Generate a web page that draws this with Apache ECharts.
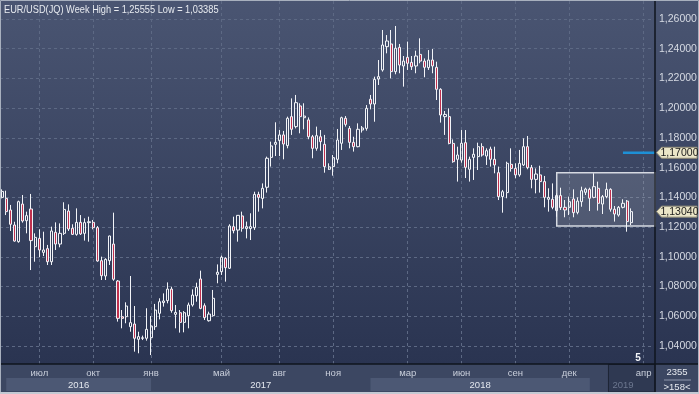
<!DOCTYPE html>
<html><head><meta charset="utf-8">
<script src="https://cdn.jsdelivr.net/npm/echarts@6/dist/echarts.min.js"></script>
<style>html,body{margin:0;padding:0;background:#2b3552;}#c{width:699px;height:394px;}</style>
</head><body><div id="c"></div>
<script>
// ---- data (weekly EUR/USD) ----
const open = [1.1400,1.1393,1.1315,1.1214,1.1102,1.1355,1.1243,1.1322,1.1068,1.1124,1.1030,1.1055,1.0967,1.1165,1.1086,1.1158,1.1308,1.1192,1.1151,1.1232,1.1158,1.1230,1.1232,1.1196,1.0974,1.0871,1.0974,1.1086,1.0837,1.0597,1.0597,1.0530,1.0548,1.0445,1.0452,1.0452,1.0456,1.0530,1.0620,1.0692,1.0705,1.0783,1.0613,1.0624,1.0559,1.0604,1.0676,1.0738,1.0851,1.0671,1.0570,1.0604,1.0882,1.0900,1.0990,1.0923,1.1203,1.1180,1.1275,1.1190,1.1190,1.1196,1.1420,1.1393,1.1468,1.1669,1.1757,1.1782,1.1820,1.1748,1.1943,1.1876,1.2015,1.1936,1.1921,1.1808,1.1730,1.1808,1.1757,1.1589,1.1607,1.1656,1.1764,1.1932,1.1864,1.1770,1.1741,1.1853,1.1864,1.2060,1.2028,1.2196,1.2257,1.2414,1.2432,1.2246,1.2409,1.2284,1.2342,1.2308,1.2284,1.2362,1.2317,1.2273,1.2324,1.2275,1.2127,1.1943,1.1943,1.1763,1.1656,1.1651,1.1768,1.1589,1.1669,1.1674,1.1741,1.1678,1.1725,1.1656,1.1566,1.1405,1.1432,1.1622,1.1595,1.1551,1.1618,1.1741,1.1600,1.1521,1.1551,1.1506,1.1387,1.1387,1.1311,1.1412,1.1333,1.1333,1.1389,1.1299,1.1371,1.1434,1.1454,1.1400,1.1461,1.1355,1.1405,1.1454,1.1320,1.1281,1.1333,1.1375,1.1230];
const high = [1.1454,1.1445,1.1349,1.1236,1.1378,1.1416,1.1304,1.1423,1.1158,1.1185,1.1169,1.1080,1.1203,1.1232,1.1225,1.1367,1.1353,1.1219,1.1326,1.1281,1.1259,1.1270,1.1248,1.1207,1.1001,1.0990,1.1142,1.1297,1.0844,1.0642,1.0694,1.0871,1.0669,1.0496,1.0470,1.0654,1.0602,1.0683,1.0721,1.0754,1.0828,1.0799,1.0676,1.0642,1.0635,1.0692,1.0781,1.0826,1.0907,1.0687,1.0631,1.0777,1.0949,1.1008,1.0997,1.1219,1.1270,1.1281,1.1304,1.1237,1.1293,1.1438,1.1438,1.1494,1.1674,1.1775,1.1905,1.1853,1.1847,1.1943,1.2066,1.2089,1.2033,1.2033,1.1938,1.1820,1.1876,1.1853,1.1820,1.1629,1.1685,1.1860,1.1943,1.1947,1.1880,1.1808,1.1898,1.1880,1.2021,1.2089,1.2212,1.2324,1.2526,1.2492,1.2526,1.2553,1.2432,1.2351,1.2448,1.2351,1.2387,1.2470,1.2335,1.2391,1.2398,1.2313,1.2134,1.1981,1.1999,1.1790,1.1741,1.1853,1.1853,1.1674,1.1730,1.1768,1.1764,1.1730,1.1741,1.1741,1.1607,1.1450,1.1640,1.1730,1.1629,1.1719,1.1797,1.1813,1.1618,1.1595,1.1613,1.1544,1.1461,1.1494,1.1427,1.1465,1.1382,1.1405,1.1454,1.1400,1.1472,1.1465,1.1465,1.1562,1.1506,1.1416,1.1499,1.1461,1.1342,1.1342,1.1387,1.1382,1.1326];
const low = [1.1393,1.1281,1.1174,1.1102,1.1095,1.1230,1.1158,1.0911,1.0967,1.0997,1.1005,1.0945,1.0945,1.1046,1.1064,1.1147,1.1174,1.1147,1.1142,1.1147,1.1109,1.1102,1.1185,1.0967,1.0844,1.0844,1.0945,1.0839,1.0564,1.0519,1.0553,1.0496,1.0362,1.0351,1.0440,1.0436,1.0339,1.0508,1.0579,1.0665,1.0687,1.0624,1.0519,1.0490,1.0492,1.0519,1.0665,1.0698,1.0647,1.0575,1.0564,1.0597,1.0822,1.0878,1.0833,1.0918,1.1158,1.1102,1.1169,1.1124,1.1113,1.1181,1.1304,1.1326,1.1432,1.1607,1.1678,1.1678,1.1656,1.1730,1.1820,1.1864,1.1831,1.1858,1.1791,1.1663,1.1714,1.1714,1.1566,1.1584,1.1546,1.1629,1.1719,1.1876,1.1730,1.1708,1.1737,1.1836,1.1849,1.1992,1.1909,1.2156,1.2246,1.2369,1.2201,1.2228,1.2235,1.2145,1.2257,1.2257,1.2235,1.2302,1.2208,1.2257,1.2235,1.2055,1.1903,1.1820,1.1757,1.1633,1.1506,1.1633,1.1530,1.1506,1.1517,1.1584,1.1674,1.1618,1.1607,1.1562,1.1382,1.1297,1.1394,1.1573,1.1528,1.1539,1.1611,1.1589,1.1461,1.1427,1.1432,1.1333,1.1304,1.1320,1.1270,1.1315,1.1266,1.1281,1.1266,1.1286,1.1337,1.1416,1.1308,1.1394,1.1311,1.1288,1.1394,1.1304,1.1237,1.1270,1.1326,1.1169,1.1214];
const close = [1.1440,1.1304,1.1219,1.1106,1.1371,1.1241,1.1277,1.1109,1.1131,1.1046,1.1046,1.0967,1.1174,1.1086,1.1158,1.1319,1.1187,1.1151,1.1232,1.1154,1.1230,1.1236,1.1196,1.0972,1.0873,1.0983,1.1140,1.0849,1.0586,1.0586,1.0669,1.0557,1.0452,1.0463,1.0455,1.0512,1.0534,1.0642,1.0698,1.0703,1.0783,1.0638,1.0626,1.0559,1.0624,1.0676,1.0743,1.0795,1.0653,1.0591,1.0615,1.0721,1.0896,1.0997,1.0927,1.1207,1.1176,1.1279,1.1192,1.1203,1.1203,1.1420,1.1400,1.1461,1.1663,1.1746,1.1770,1.1820,1.1759,1.1932,1.1858,1.2037,1.1943,1.1947,1.1808,1.1730,1.1815,1.1775,1.1607,1.1605,1.1667,1.1786,1.1936,1.1891,1.1770,1.1741,1.1858,1.1867,1.1999,1.2028,1.2194,1.2212,1.2425,1.2452,1.2246,1.2403,1.2290,1.2317,1.2302,1.2279,1.2351,1.2317,1.2275,1.2324,1.2284,1.2127,1.1954,1.1958,1.1763,1.1640,1.1685,1.1764,1.1602,1.1656,1.1690,1.1741,1.1685,1.1714,1.1656,1.1618,1.1405,1.1438,1.1629,1.1595,1.1551,1.1629,1.1741,1.1600,1.1521,1.1557,1.1506,1.1400,1.1400,1.1333,1.1412,1.1331,1.1315,1.1371,1.1297,1.1375,1.1445,1.1456,1.1394,1.1472,1.1360,1.1405,1.1454,1.1320,1.1288,1.1333,1.1360,1.1237,1.1304];

const slotCount = 158;                       // bars visible in the window (">158<")
const weeks = Array.from({length: slotCount}, (_, i) => 'W' + (i + 1));
const monthTickIdx = [9, 22, 36, 53, 67, 80, 98, 111, 124, 137, 155];
const monthTickLabels = ['июл','окт','янв','май','авг','ноя','мар','июн','сен','дек','апр'];
const yearLabels = ['2016', '2017', '2018', '2019'];
const yearStartIdx = [1, 36, 89, 142];
const futureStartIdx = 147;
const priceMin = 1.02, priceMax = 1.28, priceStep = 0.02;
const rangeStartIdx = 134, rangeHigh = 1.1565, rangeLow = 1.1207;
const targetLevel = 1.17, targetStartIdx = 150;
const titleText = 'EUR/USD(JQ) Week High = 1,25555 Low = 1,03385';
const barsTotalText = '2355', barsVisibleText = '>158<', counterText = '5';

const fmt = v => v.toFixed(5).replace('.', ',');
const candles = open.map((o, i) => [o, close[i], low[i], high[i]]);
const FONT = '"Liberation Sans", Arial, sans-serif';

const chart = echarts.init(document.getElementById('c'), null, {renderer: 'canvas'});
chart.setOption({
  animation: false,
  backgroundColor: new echarts.graphic.LinearGradient(0, 0, 0, 1, [
    {offset: 0, color: '#4a5572'}, {offset: 0.924, color: '#2a3451'}, {offset: 1, color: '#2a3451'}]),
  grid: {left: 0, right: 45, top: -10.727, bottom: 18.273, containLabel: false, outerBoundsMode: 'none'},
  xAxis: {
    type: 'category', data: weeks, boundaryGap: true, offset: -11.727,
    axisLine: {show: false},
    axisTick: {show: true, inside: true, length: 364, alignWithLabel: true,
      interval: (i) => monthTickIdx.includes(i),
      lineStyle: {color: '#5d6984', width: 1, type: [3, 3]}},
    axisLabel: {show: true, interval: (i) => monthTickIdx.includes(i),
      formatter: (v, i) => monthTickLabels[monthTickIdx.indexOf(i)] || '',
      color: (v, i) => (i >= futureStartIdx ? '#6c778f' : '#c9cfdb'),
      fontSize: 9.5, fontFamily: FONT, margin: 4},
    splitLine: {show: false}
  },
  yAxis: {
    type: 'value', position: 'right', min: priceMin, max: priceMax, interval: priceStep, scale: true,
    axisLine: {show: false}, axisTick: {show: false},
    axisLabel: {formatter: fmt, color: '#d6dae3', fontSize: 10.5, fontFamily: FONT, margin: 5,
      showMinLabel: false, showMaxLabel: false},
    splitLine: {show: true, showMinLine: false, showMaxLine: false,
      lineStyle: {color: '#5d6984', width: 1, type: [3, 3]}}
  },
  series: [{
    type: 'candlestick', data: candles, barWidth: 2.6, z: 3,
    itemStyle: {color: 'rgba(0,0,0,0)', color0: '#c0304e', borderColor: '#f2f4f8', borderColor0: '#f2f4f8', borderWidth: 1}
  }]
});

function drawOverlay() {
  const px = (i) => chart.convertToPixel({xAxisIndex: 0}, weeks[i]);
  const py = (v) => chart.convertToPixel({yAxisIndex: 0}, v);
  const band = px(1) - px(0);
  const g = [];
  // bottom axis strip
  g.push({type: 'rect', shape: {x: 0, y: 364, width: 699, height: 30}, style: {fill: '#3c4762'}, z: -10});
  [[0, 1], [2, 3]].forEach(([a, b]) => {
    g.push({type: 'rect', shape: {x: px(yearStartIdx[a]), y: 378, width: px(yearStartIdx[b]) - px(yearStartIdx[a]), height: 13},
      style: {fill: '#4c5874'}, z: -9});
  });
  const fx = px(futureStartIdx) - band / 2;
  g.push({type: 'rect', shape: {x: fx, y: 364.5, width: 655 - fx, height: 27.5}, style: {fill: '#2f3952', stroke: '#1d2535', lineWidth: 1}, z: -9});
  for (let k = 0; k < 3; k++) {
    const cx = (px(yearStartIdx[k]) + px(yearStartIdx[k + 1])) / 2;
    g.push({type: 'text', x: cx, y: 385, style: {text: yearLabels[k], fill: '#e3e7ee', font: '9.5px ' + FONT, align: 'center', verticalAlign: 'middle'}, z: 10});
  }
  g.push({type: 'text', x: fx + 4, y: 385, style: {text: yearLabels[3], fill: '#6c778f', font: '9.5px ' + FONT, align: 'left', verticalAlign: 'middle'}, z: 10});
  // range box
  const y1 = py(rangeHigh), y2 = py(rangeLow), x1 = px(rangeStartIdx);
  g.push({type: 'rect', shape: {x: x1, y: y1, width: 655 - x1, height: y2 - y1},
    style: {fill: 'rgba(255,255,255,0.13)', stroke: '#d5d9e1', lineWidth: 1.5}, z: 1});
  // target line
  const ty = py(targetLevel);
  g.push({type: 'line', shape: {x1: px(targetStartIdx), y1: ty, x2: 655, y2: ty}, style: {stroke: '#1e90d6', lineWidth: 2.5}, z: 5});
  // axis borders
  g.push({type: 'line', shape: {x1: 655, y1: 0, x2: 655, y2: 394}, style: {stroke: '#0f141e', lineWidth: 1.5}, z: 12});
  g.push({type: 'line', shape: {x1: 0, y1: 364, x2: 699, y2: 364}, style: {stroke: '#0f141e', lineWidth: 1.5}, z: 12});
  // price tags
  [[targetLevel, fmt(targetLevel)], [close[close.length - 1], fmt(close[close.length - 1])]].forEach(([v, t]) => {
    const y = py(v);
    g.push({type: 'polygon', shape: {points: [[656.5, y], [661.5, y - 5.5], [697, y - 5.5], [697, y + 5.5], [661.5, y + 5.5]]},
      style: {fill: '#ebe6c8', stroke: '#8f8b76', lineWidth: 1}, z: 14});
    g.push({type: 'text', x: 679.5, y: y + 0.5, style: {text: t, fill: '#1b1b1b', font: '10.5px ' + FONT, align: 'center', verticalAlign: 'middle'}, z: 15});
  });
  // bottom-right counter box
  g.push({type: 'text', x: 677, y: 372, style: {text: barsTotalText, fill: '#e6e9ef', font: '9.5px ' + FONT, align: 'center', verticalAlign: 'middle'}, z: 15});
  g.push({type: 'line', shape: {x1: 664, y1: 380, x2: 691, y2: 380}, style: {stroke: '#9099ad', lineWidth: 1}, z: 15});
  g.push({type: 'text', x: 677, y: 387.5, style: {text: barsVisibleText, fill: '#e6e9ef', font: '9.5px ' + FONT, align: 'center', verticalAlign: 'middle'}, z: 15});
  g.push({type: 'text', x: 638, y: 358, style: {text: counterText, fill: '#f2f4f8', font: 'bold 10px ' + FONT, align: 'center', verticalAlign: 'middle'}, z: 15});
  // title
  g.push({type: 'text', x: 4, y: 10, scaleX: 0.84, style: {text: titleText, fill: '#e8ebf0', font: '11px ' + FONT, align: 'left', verticalAlign: 'middle'}, z: 15});
  // frame
  g.push({type: 'rect', shape: {x: 0.5, y: 0.5, width: 698, height: 392.5}, style: {fill: 'none', stroke: '#a8b0be', lineWidth: 1}, z: 20});
  g.push({type: 'line', shape: {x1: 0, y1: 393, x2: 699, y2: 393}, style: {stroke: '#c3c9d3', lineWidth: 2}, z: 20});
  chart.setOption({graphic: g});
}
drawOverlay();
</script>
</body></html>
